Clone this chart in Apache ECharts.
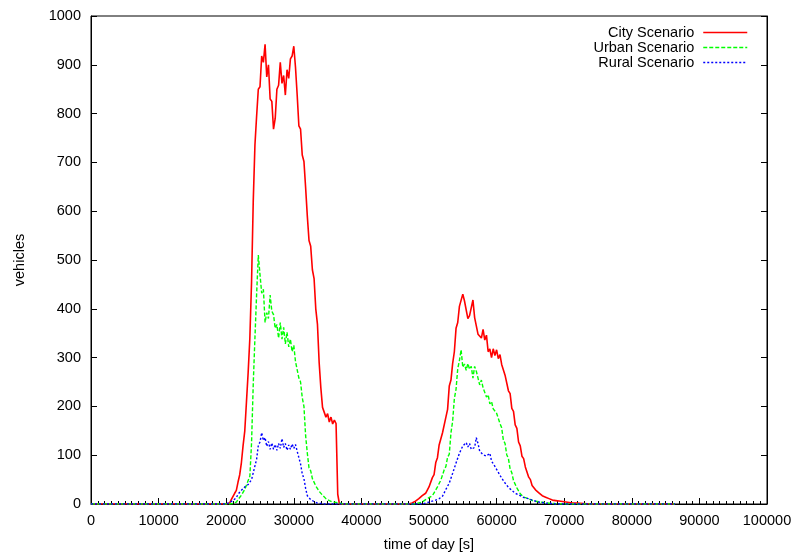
<!DOCTYPE html>
<html>
<head>
<meta charset="utf-8">
<script src="https://cdn.jsdelivr.net/npm/echarts@6/dist/echarts.min.js"></script>
<style>
html,body{margin:0;padding:0;background:#fff;}
#chart{width:795px;height:552px;}
</style>
</head>
<body>
<div id="chart"></div>
<script>
// time of day [s]
const timeOfDay = [
  0, 10000, 18000,
  19000,19250,19500,19750,20000,20250,20500,20750,21000,21250,
  21500,21750,22000,22250,22500,22750,23000,23250,23500,23750,
  24000,24250,24500,24750,25000,25250,25500,25750,26000,26250,
  26500,26750,27000,27250,27500,27750,28000,28250,28500,28750,
  29000,29250,29500,29750,30000,30250,30500,30750,31000,31250,
  31500,31750,32000,32250,32500,32750,33000,33250,33500,33750,
  34000,34250,34500,34750,35000,35250,35500,35750,36000,36250,
  36500,36750,37000,37250,37500,37750,38000,
  40000, 44000,
  46000,46250,46500,46750,47000,47250,47500,47750,48000,48250,
  48500,48750,49000,49250,49500,49750,50000,50250,50500,50750,
  51000,51250,51500,51750,52000,52250,52500,52750,53000,53250,
  53500,53750,54000,54250,54500,54750,55000,55250,55500,55750,
  56000,56250,56500,56750,57000,57250,57500,57750,58000,58250,
  58500,58750,59000,59250,59500,59750,60000,60250,60500,60750,
  61000,61250,61500,61750,62000,62250,62500,62750,63000,63250,
  63500,63750,64000,64250,64500,64750,65000,65250,65500,65750,
  66000,66250,66500,66750,67000,67250,67500,67750,68000,68250,
  68500,68750,69000,69250,69500,69750,70000,70250,70500,70750,
  71000,71250,71500,71750,72000,
  74000, 80000, 86400
];

const cityVehicles = [
  0,0,0,
  0,0,0,1,0,3,2,9,10,22,
  28,45,60,85,120,150,210,270,340,455,
  620,735,795,850,855,918,905,942,875,900,
  830,825,768,790,850,858,905,862,878,838,
  890,872,912,918,938,895,838,775,768,715,
  702,648,590,540,528,480,462,400,368,290,
  238,198,202,178,185,168,178,164,172,165,
  20,0,1,0,2,0,0,
  0,0,
  0,0,0,1,0,1,2,3,6,5,
  11,10,17,14,22,23,35,37,54,60,
  85,95,121,125,146,150,178,194,242,254,
  288,312,360,372,405,402,430,416,412,380,
  386,388,418,382,378,348,352,340,358,336,
  346,312,318,300,318,304,316,298,306,286,
  290,264,260,232,226,196,190,162,155,127,
  119,98,93,76,72,55,50,38,37,29,
  30,23,24,17,18,14,15,11,11,8,
  9,7,6,6,5,5,4,4,3,3,
  2,2,3,2,1,
  0,0,0
];

const urbanVehicles = [
  0,0,0,
  0,0,0,0,0,0,0,0,1,2,
  4,9,11,18,20,30,33,48,57,125,
  245,340,430,510,470,432,440,372,392,380,
  428,395,388,360,368,340,372,338,362,328,
  352,322,338,312,325,292,290,258,250,218,
  200,140,104,74,68,52,48,37,35,26,
  25,18,16,11,10,7,6,4,3,3,
  2,2,1,0,0,0,0,
  0,0,
  0,0,0,0,0,0,0,0,0,1,
  2,3,4,7,9,12,13,16,17,23,
  27,35,38,49,53,70,77,96,102,146,
  170,216,235,277,294,316,280,287,274,288,
  276,282,258,282,272,268,244,254,238,240,
  219,224,205,210,195,199,186,184,165,156,
  131,124,101,93,72,64,48,44,33,29,
  21,19,14,13,12,10,9,7,6,5,
  5,4,4,3,3,2,2,2,1,1,
  1,1,0,0,0,0,0,0,0,0,
  0,0,0,0,0,
  0,0,0
];

const ruralVehicles = [
  0,0,0,
  0,0,0,0,0,1,3,5,7,11,
  13,20,21,28,29,35,34,40,41,50,
  54,78,92,120,127,146,130,136,118,128,
  112,125,112,122,110,124,114,134,116,124,
  110,121,112,123,114,122,108,104,82,62,
  52,32,17,13,9,7,5,3,2,2,
  1,0,0,0,0,0,0,0,0,0,
  0,0,0,0,0,0,0,
  0,0,
  0,0,0,0,0,0,0,0,0,0,
  0,0,0,1,2,3,4,5,6,7,
  8,10,11,14,16,20,30,32,43,47,
  63,67,84,86,104,104,119,116,126,117,
  124,112,115,116,136,124,108,112,101,104,
  98,94,104,88,88,77,78,65,64,53,
  52,43,42,34,35,28,29,22,23,19,
  19,15,15,12,12,11,9,8,7,6,
  5,4,4,3,3,2,2,1,1,1,
  0,0,0,0,0,0,0,0,0,0,
  0,0,0,0,0,
  0,0,0
];

const seriesNames = ['City Scenario', 'Urban Scenario', 'Rural Scenario'];
const seriesColors = ['#ff0000', '#00ff00', '#0000ff'];
const seriesDash = ['solid', [4, 2], [2, 2]];
const seriesWidths = [1.6, 1.4, 1.4];
const seriesValues = [cityVehicles, urbanVehicles, ruralVehicles];

const FONT = 'Liberation Sans, Arial, Helvetica, sans-serif';
const FS = 14.5;

function pairs(vals) {
  return timeOfDay.map((t, i) => [t, vals[i]]);
}

const chart = echarts.init(document.getElementById('chart'), null, {renderer: 'canvas'});

const axisCommon = {
  axisLine: {show: true, lineStyle: {color: '#000', width: 1}},
  splitLine: {show: false},
};
const plainNumber = v => String(v);

chart.setOption({
  animation: false,
  backgroundColor: '#fff',
  grid: {left: 91, right: 28, top: 16, bottom: 48, show: true, borderColor: '#000', borderWidth: 1,
         backgroundColor: 'transparent', containLabel: false, outerBoundsMode: 'none'},
  legend: seriesNames.map((n, i) => ({
    data: [n],
    orient: 'vertical',
    right: 47,
    top: 25 + i * 15,
    padding: 0,
    align: 'right',
    itemWidth: 44,
    itemHeight: 14,
    selectedMode: false,
    itemStyle: {opacity: 0},
    lineStyle: {width: 1.5, color: seriesColors[i], type: seriesDash[i]},
    textStyle: {fontFamily: FONT, fontSize: FS, color: '#000', padding: [0, 4, 0, 0]}
  })),
  xAxis: Object.assign({}, axisCommon, {
    type: 'value',
    min: 0, max: 100000, interval: 10000,
    name: 'time of day [s]',
    nameLocation: 'middle',
    nameGap: 33,
    nameTextStyle: {fontFamily: FONT, fontSize: FS, color: '#000'},
    axisTick: {show: true, inside: true, length: 6, lineStyle: {color: '#000'}},
    minorTick: {show: true, splitNumber: 10, length: 3, lineStyle: {color: '#000'}},
    axisLabel: {fontFamily: FONT, fontSize: FS, color: '#000', margin: 9, formatter: plainNumber}
  }),
  yAxis: [
    Object.assign({}, axisCommon, {
      type: 'value',
      min: 0, max: 1000, interval: 100,
      name: 'vehicles',
      nameLocation: 'middle',
      nameGap: 64,
      nameTextStyle: {fontFamily: FONT, fontSize: FS, color: '#000'},
      axisTick: {show: true, inside: true, length: 6, lineStyle: {color: '#000'}},
      axisLabel: {fontFamily: FONT, fontSize: FS, color: '#000', margin: 10, formatter: plainNumber}
    }),
    Object.assign({}, axisCommon, {
      type: 'value',
      position: 'right',
      min: 0, max: 1000, interval: 100,
      axisTick: {show: true, inside: true, length: 6, lineStyle: {color: '#000'}},
      axisLabel: {show: false}
    })
  ],
  series: seriesNames.map((n, i) => ({
    name: n,
    type: 'line',
    data: pairs(seriesValues[i]),
    showSymbol: false,
    symbol: 'none',
    sampling: null,
    lineStyle: {color: seriesColors[i], width: seriesWidths[i], type: seriesDash[i]},
    itemStyle: {color: seriesColors[i]},
    emphasis: {disabled: true}
  }))
});
</script>
</body>
</html>
